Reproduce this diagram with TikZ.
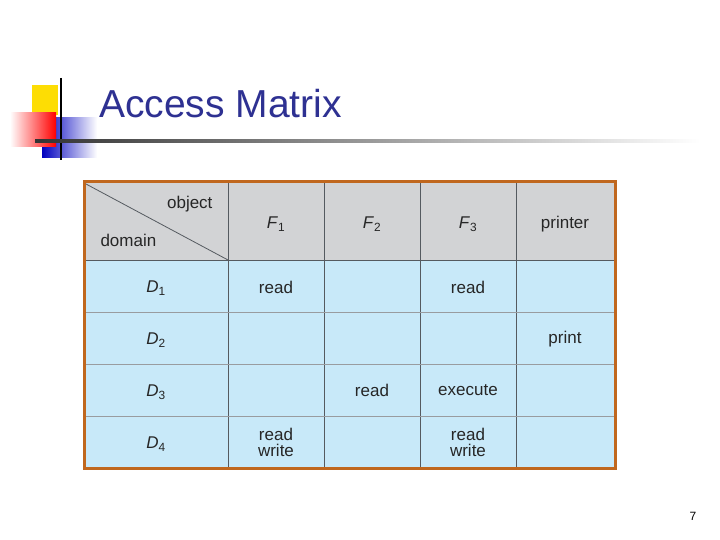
\documentclass[tikz,border=0pt]{standalone}
\usepackage{fontspec}
\setmainfont{Liberation Sans}
\usetikzlibrary{fadings}
\definecolor{titleblue}{HTML}{2E3192}
\definecolor{hdr}{HTML}{D2D3D5}
\definecolor{cellb}{HTML}{C8E9F9}
\definecolor{brd}{HTML}{C0671E}
\definecolor{gridc}{HTML}{555A60}
\tikzset{cell/.style={font=\fontsize{17}{19}\selectfont, align=center, text=black!85}}
\begin{document}
\begin{tikzpicture}[x=1pt,y=-1pt]
\useasboundingbox (0,0) rectangle (720,540);
\fill[white] (0,0) rectangle (720,540);
% logo
\fill[yellow!80!orange] (32,85) rectangle (58,115);
\shade[left color=blue!75!black, right color=white] (42,118) rectangle (97,158);
\shade[left color=white, right color=red] (10,113) rectangle (56,147);
\draw[black, line width=2] (61,78) -- (61,160);
\shade[left color=black!80, right color=white] (35,140) rectangle (700,142.5);
\node[anchor=base west, text=titleblue, font=\fontsize{39}{40}\selectfont, inner sep=0] (title) at (99,118) {Access Matrix};
% table
\fill[hdr] (84,182) rectangle (615,260);
\fill[cellb] (84,260) rectangle (615,468);
\foreach \x in {228,324,420,516} \draw[gridc, line width=0.8] (\x,182) -- (\x,468);
\draw[gridc, line width=0.8] (84,260) -- (615,260);
\foreach \y in {312,364,416} \draw[gridc!60, line width=0.8] (84,\y) -- (615,\y);
\draw[gridc, line width=0.8] (86,184) -- (228,260);
\draw[brd, line width=3] (84,182) rectangle (615,468);
\node[cell, anchor=east] (obj) at (216,204) {object};
\node[cell, anchor=west] (dom) at (97,240) {domain};
\node[cell] (f1) at (276,224) {\textit{F}\textsubscript{1}};
\node[cell] (f2) at (372,224) {\textit{F}\textsubscript{2}};
\node[cell] (f3) at (468,224) {\textit{F}\textsubscript{3}};
\node[cell] (pr) at (565,224) {printer};
\node[cell] (d1) at (156,288) {\textit{D}\textsubscript{1}};
\node[cell] (d2) at (156,340) {\textit{D}\textsubscript{2}};
\node[cell] (d3) at (156,392) {\textit{D}\textsubscript{3}};
\node[cell] (d4) at (156,444) {\textit{D}\textsubscript{4}};
\node[cell] (a11) at (276,287) {read};
\node[cell] (a13) at (468,287) {read};
\node[cell] (a24) at (565,339) {print};
\node[cell] (a32) at (372,390) {read};
\node[cell] (a33) at (468,390) {execute};
\node[cell] (a41) at (276,442) {read\\[-3pt]write};
\node[cell] (a43) at (468,442) {read\\[-3pt]write};
\node[font=\fontsize{12}{14}\selectfont] (pg) at (693,516) {7};
\end{tikzpicture}
\end{document}
